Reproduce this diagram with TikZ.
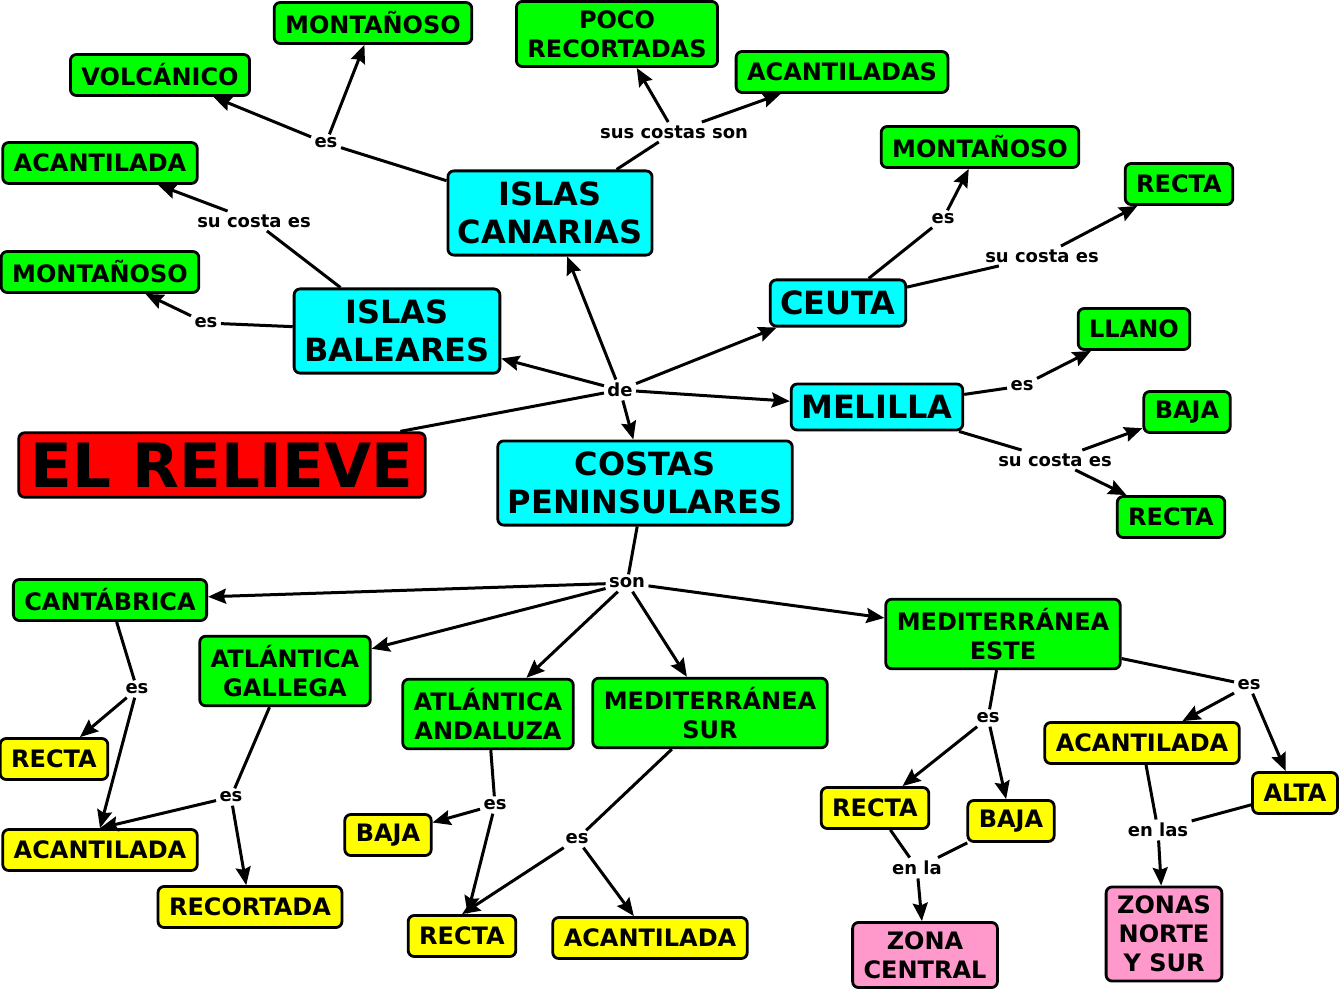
\documentclass[tikz,border=0pt]{standalone}
\usepackage{fontspec}
\setmainfont{DejaVu Sans}
\usetikzlibrary{arrows.meta}
\definecolor{rosaclaro}{RGB}{255,153,204}
\definecolor{turquesa}{RGB}{0,255,255}
\definecolor{verdeclaro}{RGB}{0,255,0}
\definecolor{amarilloclaro}{RGB}{255,255,0}
\definecolor{rojoclaro}{RGB}{255,0,0}
\tikzset{
  concepto/.style={draw=black, line width=2.8pt, rounded corners=6pt, align=center,
    font=\bfseries\fontsize{24}{29}\selectfont, inner xsep=11pt, inner ysep=9pt,
    minimum height=41pt},
  verde/.style={concepto, fill=verdeclaro},
  amarillo/.style={concepto, fill=amarilloclaro},
  zona/.style={concepto, fill=rosaclaro},
  isla/.style={concepto, fill=turquesa, font=\bfseries\fontsize{32}{38}\selectfont,
    inner xsep=10pt, inner ysep=11pt, minimum height=46pt},
  raiz/.style={concepto, fill=rojoclaro, font=\bfseries\fontsize{61}{61}\selectfont,
    inner xsep=12pt, inner ysep=10pt},
  enlace/.style={font=\bfseries\fontsize{18}{21}\selectfont, inner sep=2pt},
  conector/.style={line width=3pt}
}
\begin{document}
\begin{tikzpicture}[x=1pt,y=-1pt,>={Stealth[length=18pt,width=15pt,inset=2.5pt]},every path/.append style={conector}]
\path[use as bounding box,fill=white,line width=0pt] (0,0) rectangle (1343,992);

\node[raiz] (relieve) at (222,465) {EL RELIEVE};
\node[isla] (canarias) at (550,213) {ISLAS\\CANARIAS};
\node[isla] (baleares) at (397,331) {ISLAS\\BALEARES};
\node[isla] (ceuta) at (838,303) {CEUTA};
\node[isla] (melilla) at (877,407) {MELILLA};
\node[isla] (costas) at (645,483) {COSTAS\\PENINSULARES};

\node[verde] (montC) at (373,23) {MONTAÑOSO};
\node[verde] (volcC) at (160,75) {VOLCÁNICO};
\node[verde] (pocoC) at (617,34) {POCO\\RECORTADAS};
\node[verde] (acantC) at (842,72) {ACANTILADAS};
\node[verde] (acantB) at (100,163) {ACANTILADA};
\node[verde] (montB) at (100,272) {MONTAÑOSO};
\node[verde] (montCe) at (980,147) {MONTAÑOSO};
\node[verde] (rectaCe) at (1179,184) {RECTA};
\node[verde] (llanoM) at (1134,329) {LLANO};
\node[verde] (bajaM) at (1187,412) {BAJA};
\node[verde] (rectaM) at (1171,517) {RECTA};
\node[verde] (cantabrica) at (110,600) {CANTÁBRICA};
\node[verde] (gallega) at (285,671) {ATLÁNTICA\\GALLEGA};
\node[verde] (andaluza) at (488,714) {ATLÁNTICA\\ANDALUZA};
\node[verde] (medsur) at (710,713) {MEDITERRÁNEA\\SUR};
\node[verde] (medeste) at (1003,634) {MEDITERRÁNEA\\ESTE};

\node[amarillo] (rectaCa) at (54,759) {RECTA};
\node[amarillo] (acantG) at (100,850) {ACANTILADA};
\node[amarillo] (recortG) at (250,907) {RECORTADA};
\node[amarillo] (bajaA) at (388,835) {BAJA};
\node[amarillo] (rectaA) at (462,936) {RECTA};
\node[amarillo] (acantS) at (650,938) {ACANTILADA};
\node[amarillo] (rectaE) at (875,808) {RECTA};
\node[amarillo] (bajaE) at (1011,821) {BAJA};
\node[amarillo] (acantE) at (1142,743) {ACANTILADA};
\node[amarillo] (altaE) at (1295,793) {ALTA};
\node[zona] (zonaC) at (925,955) {ZONA\\CENTRAL};
\node[zona] (zonaNS) at (1164,934) {ZONAS\\NORTE\\Y SUR};

\node[enlace] (de) at (620,390) {de};
\node[enlace] (son) at (627,583) {son};
\node[enlace] (esC) at (326,143) {es};
\node[enlace] (sus) at (674,132) {sus costas son};
\node[enlace] (suB) at (254,221) {su costa es};
\node[enlace] (esB) at (206,323) {es};
\node[enlace] (esCe) at (943,219) {es};
\node[enlace] (suCe) at (1042,256) {su costa es};
\node[enlace] (esM) at (1022,386) {es};
\node[enlace] (suM) at (1055,460) {su costa es};
\node[enlace] (esCa) at (137,689) {es};
\node[enlace] (esG) at (231,797) {es};
\node[enlace] (esA) at (495,805) {es};
\node[enlace] (esS) at (577,839) {es};
\node[enlace] (esE1) at (988,718) {es};
\node[enlace] (esE2) at (1249,685) {es};
\node[enlace] (enla) at (917,868) {en la};
\node[enlace] (enlas) at (1158,830) {en las};

\draw (relieve) -- (de);
\draw[->] (de) -- (canarias);
\draw[->] (de) -- (baleares);
\draw[->] (de) -- (ceuta);
\draw[->] (de) -- (melilla);
\draw[->] (de) -- (costas);

\draw (canarias) -- (esC);
\draw[->] (esC) -- (volcC);
\draw[->] (esC) -- (montC);
\draw (canarias) -- (sus);
\draw[->] (sus) -- (pocoC);
\draw[->] (sus) -- (acantC);
\draw (baleares) -- (suB);
\draw[->] (suB) -- (acantB);
\draw (baleares) -- (esB);
\draw[->] (esB) -- (montB);

\draw (ceuta) -- (esCe);
\draw[->] (esCe) -- (montCe);
\draw (ceuta) -- (suCe);
\draw[->] (suCe) -- (rectaCe);
\draw (melilla) -- (esM);
\draw[->] (esM) -- (llanoM);
\draw (melilla) -- (suM);
\draw[->] (suM) -- (bajaM);
\draw[->] (suM) -- (rectaM);

\draw (costas) -- (son);
\draw[->] (son) -- (cantabrica);
\draw[->] (son) -- (gallega);
\draw[->] (son) -- (andaluza);
\draw[->] (son) -- (medsur);
\draw[->] (son) -- (medeste);

\draw (cantabrica) -- (esCa);
\draw[->] (esCa) -- (rectaCa);
\draw[->] (esCa) -- (acantG.north);
\draw (gallega) -- (esG);
\draw[->] (esG) -- (acantG.north);
\draw[->] (esG) -- (recortG);
\draw (andaluza) -- (esA);
\draw[->] (esA) -- (bajaA);
\draw[->] (esA) -- (rectaA);
\draw (medsur) -- (esS);
\draw[->] (esS) -- (rectaA.north);
\draw[->] (esS) -- (acantS);

\draw (medeste) -- (esE1);
\draw[->] (esE1) -- (rectaE);
\draw[->] (esE1) -- (bajaE);
\draw (medeste) -- (esE2);
\draw[->] (esE2) -- (acantE);
\draw[->] (esE2) -- (altaE);
\draw (rectaE) -- (enla);
\draw (bajaE) -- (enla);
\draw[->] (enla) -- (zonaC);
\draw (acantE) -- (enlas);
\draw (altaE) -- (enlas);
\draw[->] (enlas) -- (zonaNS);
\end{tikzpicture}
\end{document}
